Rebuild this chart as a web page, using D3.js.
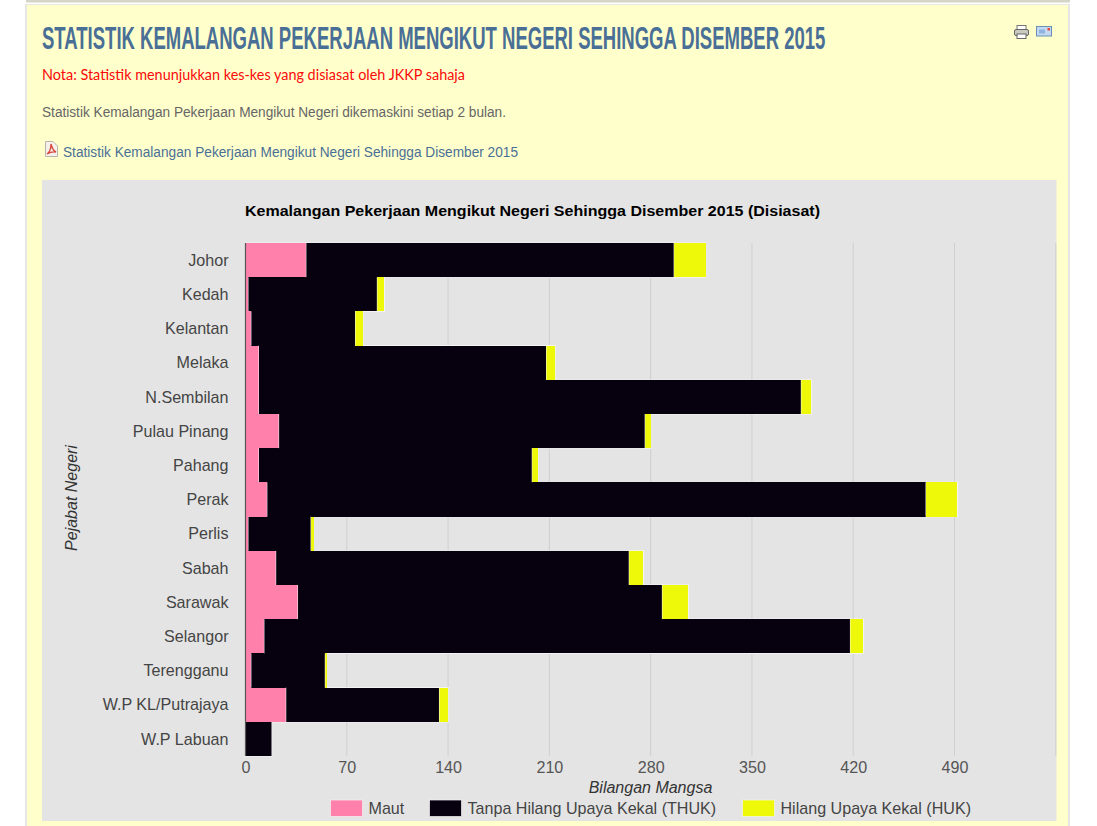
<!DOCTYPE html>
<html>
<head>
<meta charset="utf-8">
<script src="https://d3js.org/d3.v7.min.js"></script>
<style>
  html, body { margin: 0; padding: 0; background: #fff; overflow: hidden; }
  svg { display: block; }
  text { font-family: "Liberation Sans", Arial, sans-serif; }
  .axis text { font-size: 16.1px; fill: #444; }
  .axis--x text { fill: #555; }
  .axis--y path, .axis--x path { display: none; }
  .axis--y line, .axis--x line { display: none; }
</style>
</head>
<body>
<svg width="1097" height="826"></svg>
<script>
var negeri = ["Johor", "Kedah", "Kelantan", "Melaka", "N.Sembilan", "Pulau Pinang", "Pahang", "Perak",
    "Perlis", "Sabah", "Sarawak", "Selangor", "Terengganu", "W.P KL/Putrajaya", "W.P Labuan"];
var maut = [42, 2, 4, 9, 9, 23, 9, 15, 2, 21, 36, 13, 4, 28, 0];
var thuk = [254, 89, 72, 199, 375, 253, 189, 455, 43, 244, 252, 405, 51, 106, 18];
var huk = [22, 5, 5, 6, 7, 4, 4, 22, 2, 10, 18, 9, 1, 6, 0];
var xTicks = [0, 70, 140, 210, 280, 350, 420, 490];
var xMax = 560;
var seriesNames = ["Maut", "Tanpa Hilang Upaya Kekal (THUK)", "Hilang Upaya Kekal (HUK)"];
var seriesColors = ["#ff80aa", "#07000f", "#eef90a"];

var svg = d3.select("svg");

// page around the chart
svg.append("rect").attr("x", 26).attr("y", 0).attr("width", 1044).attr("height", 2.5).attr("fill", "#d6d6c8");
svg.append("rect").attr("x", 25).attr("y", 4).attr("width", 1045).attr("height", 822).attr("fill", "#e6e6e2");
svg.append("rect").attr("x", 27).attr("y", 5).attr("width", 1041).attr("height", 821).attr("fill", "#ffffcc");

// heading, squeezed to the width of the condensed face in the original
var heading = svg.append("text")
    .style("font-family", "'Liberation Sans Narrow', 'Liberation Sans', sans-serif")
    .style("font-size", "32px").style("font-weight", "bold").attr("fill", "#4a6f96")
    .text("STATISTIK KEMALANGAN PEKERJAAN MENGIKUT NEGERI SEHINGGA DISEMBER 2015");
var headingScale = 784 / heading.node().getComputedTextLength();
heading.attr("transform", "translate(42,49) scale(" + headingScale + ",1)");

svg.append("text")
    .attr("x", 42).attr("y", 80)
    .attr("textLength", 423).attr("lengthAdjust", "spacingAndGlyphs")
    .style("font-family", "Lato, sans-serif")
    .style("font-size", "14.5px").attr("fill", "#fb0a0a")
    .text("Nota: Statistik menunjukkan kes-kes yang disiasat oleh JKKP sahaja");

svg.append("text")
    .attr("x", 42).attr("y", 117)
    .attr("textLength", 464).attr("lengthAdjust", "spacingAndGlyphs")
    .style("font-size", "14px").attr("fill", "#666")
    .text("Statistik Kemalangan Pekerjaan Mengikut Negeri dikemaskini setiap 2 bulan.");

svg.append("text")
    .attr("x", 63).attr("y", 157)
    .attr("textLength", 455).attr("lengthAdjust", "spacingAndGlyphs")
    .style("font-size", "14px").attr("fill", "#4a6f96")
    .text("Statistik Kemalangan Pekerjaan Mengikut Negeri Sehingga Disember 2015");

// pdf icon
var pdf = svg.append("g").attr("transform", "translate(45,141)");
pdf.append("path").attr("d", "M0.5,0.5H8L12.5,5V15.5H0.5Z").attr("fill", "#f4f0ea").attr("stroke", "#b9b4ae");
pdf.append("path").attr("d", "M2,13C5,11 6,6 6,3C7,7 9,10 11,11C8,10.5 5,11 2,13Z")
    .attr("fill", "none").attr("stroke", "#d8453c").attr("stroke-width", 1.3);

// printer icon
var printer = svg.append("g").attr("transform", "translate(1014,25)");
printer.append("rect").attr("x", 3).attr("y", 0.5).attr("width", 9).attr("height", 4).attr("fill", "#fff").attr("stroke", "#777");
printer.append("rect").attr("x", 0.5).attr("y", 4.5).attr("width", 14).attr("height", 6).attr("rx", 1.5).attr("fill", "#c9c9c0").attr("stroke", "#666");
printer.append("rect").attr("x", 3).attr("y", 9).attr("width", 9).attr("height", 4.5).attr("fill", "#fff").attr("stroke", "#666");

// mail icon
var mail = svg.append("g").attr("transform", "translate(1036,26)");
mail.append("rect").attr("x", 0.5).attr("y", 0.5).attr("width", 15).attr("height", 9.5).attr("fill", "#c3d9f2").attr("stroke", "#6d8fb5");
mail.append("rect").attr("x", 3).attr("y", 3.5).attr("width", 6).attr("height", 4).attr("fill", "#8fb4e0");
mail.append("rect").attr("x", 11.5).attr("y", 2).attr("width", 2.5).attr("height", 2.5).attr("fill", "#e8483c");

// chart panel
svg.append("rect").attr("x", 42).attr("y", 180).attr("width", 1014.5).attr("height", 641).attr("fill", "#e4e4e4");

var margin = { top: 243, left: 245.5 },
    width = 810.3,
    height = 513,
    g = svg.append("g").attr("transform", "translate(" + margin.left + "," + margin.top + ")");

var x = d3.scaleLinear().domain([0, xMax]).range([0, width]);
var y = d3.scaleBand().domain(negeri).range([0, height]).padding(0);

var rows = negeri.map(function (d, i) {
    return { negeri: d, 0: maut[i], 1: thuk[i], 2: huk[i] };
});
var stacked = d3.stack().keys([0, 1, 2])(rows);

// grid
g.append("g")
    .selectAll("line")
    .data(xTicks.slice(1).concat([xMax]))
    .enter()
    .append("line")
    .attr("x1", function (d) { return x(d); })
    .attr("x2", function (d) { return x(d); })
    .attr("y1", 0)
    .attr("y2", height)
    .attr("stroke", "#cfcfcf")
    .attr("stroke-width", 1);

function barSegments(sel) {
    return sel.selectAll("g")
        .data(stacked)
        .enter()
        .append("g")
        .attr("fill", function (d, i) { return seriesColors[i]; })
        .selectAll("rect")
        .data(function (d) { return d.filter(function (e) { return e[1] > e[0]; }); })
        .enter()
        .append("rect")
        .attr("x", function (d) { return x(d[0]); })
        .attr("y", function (d) { return y(d.data.negeri); })
        .attr("width", function (d) { return x(d[1]) - x(d[0]); })
        .attr("height", y.bandwidth());
}

// pale halo under the bars, so neighbouring rows still join up
barSegments(g.append("g"))
    .attr("stroke", "#f4f4f4")
    .attr("stroke-width", 1.2);

barSegments(g.append("g"))
    .attr("shape-rendering", "crispEdges");

// pale edge where a segment meets the next one
g.append("g")
    .selectAll("line")
    .data(stacked.slice(0, 2).flat().filter(function (e) { return e[1] > e[0]; }))
    .enter()
    .append("line")
    .attr("x1", function (d) { return x(d[1]); })
    .attr("x2", function (d) { return x(d[1]); })
    .attr("y1", function (d) { return y(d.data.negeri); })
    .attr("y2", function (d) { return y(d.data.negeri) + y.bandwidth(); })
    .attr("stroke", "#f4f4f4")
    .attr("stroke-width", 0.5);

// baseline
g.append("line")
    .attr("x1", 0).attr("x2", 0).attr("y1", 0).attr("y2", height)
    .attr("stroke", "#555").attr("stroke-width", 1.2);

g.append("g")
    .attr("class", "axis axis--x")
    .attr("transform", "translate(0," + height + ")")
    .call(d3.axisBottom(x).tickValues(xTicks).tickSize(0).tickPadding(6));

g.append("g")
    .attr("class", "axis axis--y")
    .call(d3.axisLeft(y).tickSize(0).tickPadding(17))
    .selectAll("text")
    .attr("y", 0.5);

// titles
svg.append("text")
    .attr("x", 245).attr("y", 216)
    .attr("textLength", 575).attr("lengthAdjust", "spacingAndGlyphs")
    .style("font-size", "14.5px").style("font-weight", "bold").attr("fill", "#000")
    .text("Kemalangan Pekerjaan Mengikut Negeri Sehingga Disember 2015 (Disiasat)");

svg.append("text")
    .attr("x", 650.5).attr("y", 793)
    .attr("text-anchor", "middle")
    .style("font-size", "16px").style("font-style", "italic").attr("fill", "#333")
    .text("Bilangan Mangsa");

svg.append("text")
    .attr("transform", "translate(77,498) rotate(-90)")
    .attr("text-anchor", "middle")
    .style("font-size", "16px").style("font-style", "italic").attr("fill", "#333")
    .text("Pejabat Negeri");

// legend
var legendX = [330.5, 429.5, 742.5];
var legend = svg.append("g")
    .selectAll("g")
    .data(seriesNames)
    .enter()
    .append("g")
    .attr("transform", function (d, i) { return "translate(" + legendX[i] + ",800)"; });

legend.append("rect")
    .attr("width", 32).attr("height", 16.5)
    .attr("fill", function (d, i) { return seriesColors[i]; })
    .attr("stroke", "#f2f2f2").attr("stroke-width", 0.7);

legend.append("text")
    .attr("x", 38).attr("y", 13.5)
    .style("font-size", "16.1px").attr("fill", "#444")
    .text(function (d) { return d; });
</script>
</body>
</html>
